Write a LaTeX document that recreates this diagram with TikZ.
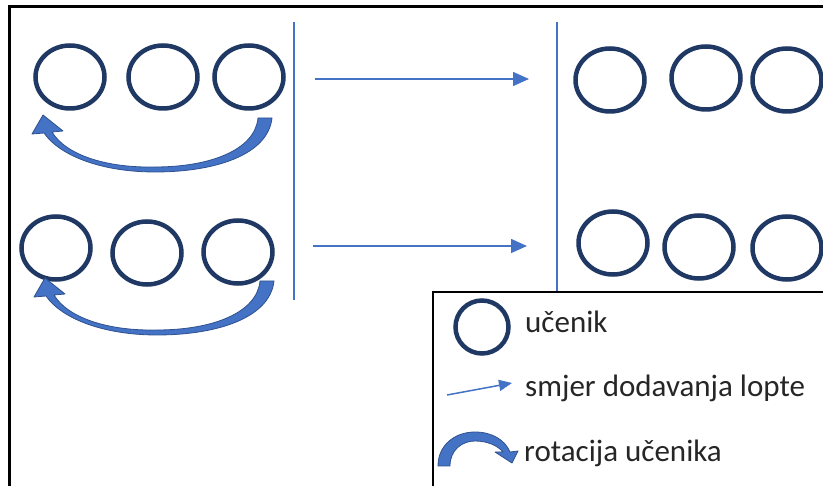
\documentclass[tikz,border=0pt]{standalone}
\usepackage{fontspec}
\setmainfont{Carlito}
\usepackage{xcolor}
\usepackage{tikz}
\usetikzlibrary{arrows.meta}
\usetikzlibrary{shapes.geometric}
\definecolor{pupilnavy}{HTML}{1F3864}
\definecolor{passblue}{HTML}{4472C4}
\definecolor{rotedge}{HTML}{2F528F}
\tikzset{
    pupil/.style = {ellipse, draw=pupilnavy, line width=4.5pt, inner sep=0pt, minimum width=69pt, minimum height=63pt},
    small_pupil/.style = {pupil, minimum width=53pt, minimum height=53pt},
    pass_arrow/.style = {draw=passblue, line width=1.5pt, -{Triangle[length=16pt,width=14pt]}},
    split_line/.style = {draw=passblue, line width=1.5pt},
    rot_shape/.style = {fill=passblue, draw=rotedge, line width=0.8pt, line join=round},
    legend_text/.style = {anchor=base west, inner sep=0pt, text=black!85, font=\fontsize{31pt}{37pt}\selectfont},
    rot_arrow/.pic = {
        \path[rot_shape] (258,118) -- (272,118)
            .. controls (268,155) and (215,172) .. (155,172)
            .. controls (102,172) and (60,156) .. (44,133)
            -- (32,134) -- (43,115) -- (63,131) -- (52,132)
            .. controls (66,155) and (106,168) .. (155,167)
            .. controls (210,167) and (255,150) .. (258,118) -- cycle;
    }
}
\begin{document}
\begin{tikzpicture}[x=1pt, y=-1pt]
    \useasboundingbox (0,0) rectangle (823,486);
    \draw[line width=3pt] (9,490) -- (9,7) -- (830,7);

    \node [pupil] (a1) at (70,77) {};
    \node [pupil] (a2) at (163,77) {};
    \node [pupil] (a3) at (249,77) {};
    \node [pupil] (b1) at (56,248) {};
    \node [pupil] (b2) at (147,253) {};
    \node [pupil] (b3) at (238,252) {};
    \pic at (0,0) {rot_arrow};
    \pic at (2,163) {rot_arrow};

    \draw[split_line] (294,22) -- (294,300);
    \draw[split_line] (557,22) -- (557,292);

    \coordinate (pass_a_from) at (315,79);
    \coordinate (pass_a_to) at (529,79);
    \coordinate (pass_b_from) at (313,246);
    \coordinate (pass_b_to) at (527,246);
    \draw[pass_arrow] (pass_a_from) -- (pass_a_to);
    \draw[pass_arrow] (pass_b_from) -- (pass_b_to);

    \node [pupil] (c1) at (610,80) {};
    \node [pupil] (c2) at (706,78) {};
    \node [pupil] (c3) at (787,80) {};
    \node [pupil] (d1) at (613,243) {};
    \node [pupil] (d2) at (699,247) {};
    \node [pupil] (d3) at (787,248) {};

    \draw[line width=1.5pt, fill=white] (433,492) -- (433,292) -- (830,292) -- (830,492);
    \node [small_pupil] (key_pupil) at (482,327) {};
    \node [legend_text] (lab_pupil) at (525,333) {učenik};
    \coordinate (key_from) at (447,395);
    \coordinate (key_to) at (512,383);
    \draw[draw=passblue, line width=1.5pt, -{Triangle[length=13pt,width=11pt]}] (key_from) -- (key_to);
    \node [legend_text] (lab_pass) at (525,397) {smjer dodavanja lopte};
    \path[rot_shape] (438,466)
        .. controls (438,445) and (455,432) .. (475,432)
        .. controls (492,432) and (505,440) .. (510,452)
        -- (518,451) -- (512,463) -- (495,452) -- (503,452)
        .. controls (498,446) and (488,441) .. (475,441)
        .. controls (462,441) and (450,450) .. (450,466) -- cycle;
    \node [legend_text] (lab_rot) at (524,462) {rotacija učenika};
\end{tikzpicture}
\end{document}
